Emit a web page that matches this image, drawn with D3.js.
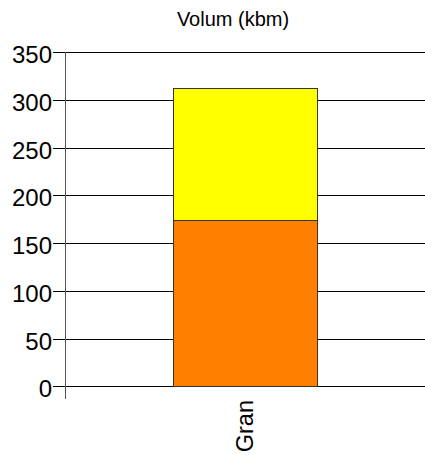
<!DOCTYPE html>
<html><head><meta charset="utf-8">
<script src="https://cdn.jsdelivr.net/npm/d3@7"></script>
<style>body{margin:0;background:#fff}svg{display:block}</style>
</head><body>
<script>
const categories = ["Gran"];
const seriesNames = ["A", "B"];
const seriesA = [174];
const seriesB = [138];
const colors = ["#ff8000", "#ffff00"];
const yTicks = [0, 50, 100, 150, 200, 250, 300, 350];
const title = "Volum (kbm)";

const W = 425, H = 456;
const mLeft = 65.5, mRight = 425, mTop = 52, mBottom = 386.3;
const svg = d3.select("body").append("svg").attr("width", W).attr("height", H);
const font = "'Liberation Sans', Arial, sans-serif";

const x = d3.scaleBand().domain(categories).range([mLeft, mRight]).paddingInner(0).paddingOuter(0.748);
const y = d3.scaleLinear().domain([0, 350]).range([mBottom, mTop]);

// gridlines
svg.append("g").selectAll("line").data(yTicks).join("line")
  .attr("x1", 53).attr("x2", mRight)
  .attr("y1", d => Math.round(y(d)) + 0.5).attr("y2", d => Math.round(y(d)) + 0.5)
  .attr("stroke", "#000").attr("stroke-width", 1);

// tick labels
svg.append("g").selectAll("text").data(yTicks).join("text")
  .attr("x", 52).attr("y", d => Math.round(y(d)) + 0.5).attr("dy", "0.45em")
  .attr("text-anchor", "end").attr("font-family", font).attr("font-size", 24)
  .text(d => d);

// axis line
svg.append("line").attr("x1", mLeft).attr("x2", mLeft).attr("y1", mTop).attr("y2", 399)
  .attr("stroke", "#555").attr("stroke-width", 1);

// stacked bars
const rows = categories.map((c, i) => ({cat: c, A: seriesA[i], B: seriesB[i]}));
const stack = d3.stack().keys(seriesNames)(rows);
svg.append("g").selectAll("g").data(stack).join("g")
  .attr("fill", (d, i) => colors[i])
  .selectAll("rect").data(d => d).join("rect")
  .attr("x", d => Math.round(x(d.data.cat)) + 0.5)
  .attr("width", x.bandwidth())
  .attr("y", d => Math.round(y(d[1])) + 0.5)
  .attr("height", d => Math.round(y(d[0])) - Math.round(y(d[1])))
  .attr("stroke", "#333").attr("stroke-width", 1);

// category labels
svg.append("g").selectAll("text").data(categories).join("text")
  .attr("transform", d => `translate(${x(d) + x.bandwidth() / 2 + 8},400) rotate(-90)`)
  .attr("text-anchor", "end").attr("font-family", font).attr("font-size", 23.5)
  .text(d => d);

// title
svg.append("text").attr("x", 233).attr("y", 26).attr("text-anchor", "middle")
  .attr("font-family", font).attr("font-size", 20).text(title);
</script>
</body></html>
